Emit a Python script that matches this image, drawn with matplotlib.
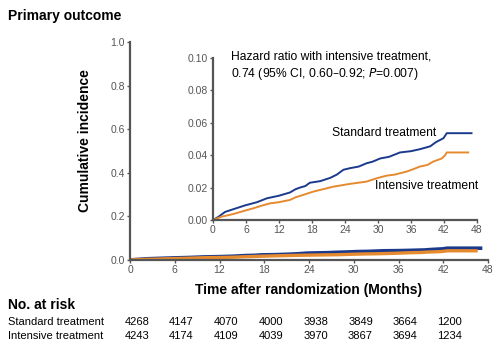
import matplotlib
matplotlib.use("Agg")
import matplotlib.pyplot as plt
import matplotlib.transforms as mtransforms

plt.rcParams['font.family'] = ['Liberation Sans', 'DejaVu Sans']

# cumulative incidence curves
std_months = [0, 1.0, 2.2, 4.0, 5.8, 8.0, 9.8, 12.0, 14.0, 15.0, 15.8, 16.8, 17.6, 19.5, 21.3,
              22.5, 23.7, 24.9, 26.5, 27.9, 29.0, 30.4, 32.0, 34.0, 36.0, 37.6, 39.5, 40.5,
              41.9, 42.2, 42.5, 47.0]
std_inc = [0, 0.002, 0.005, 0.007, 0.009, 0.011, 0.0134, 0.015, 0.017, 0.019, 0.020, 0.021,
           0.023, 0.024, 0.026, 0.028, 0.031, 0.032, 0.033, 0.035, 0.036, 0.038, 0.039, 0.0417,
           0.0425, 0.0437, 0.0455, 0.048, 0.0505, 0.052, 0.0536, 0.0536]
int_months = [0, 1.5, 3.7, 5.5, 7.3, 9.0, 10.4, 12.0, 14.0, 15.0, 16.4, 18.2, 20.0, 21.9, 24.9,
              27.9, 30.0, 31.6, 33.0, 35.2, 36.5, 37.6, 39.0, 40.0, 41.6, 42.2, 42.5, 46.4]
int_inc = [0, 0.002, 0.0037, 0.0055, 0.0072, 0.009, 0.0103, 0.011, 0.0124, 0.014, 0.0155,
           0.0175, 0.019, 0.0206, 0.0223, 0.0237, 0.026, 0.0274, 0.028, 0.0299, 0.0315, 0.033,
           0.034, 0.036, 0.038, 0.040, 0.0417, 0.0417]

risk_months = [0, 6, 12, 18, 24, 30, 36, 42]
std_risk = [4268, 4147, 4070, 4000, 3938, 3849, 3664, 1200]
int_risk = [4243, 4174, 4109, 4039, 3970, 3867, 3694, 1234]

blue = '#1b3a8c'
orange = '#e58a2e'
grey = '#555555'

fig = plt.figure(figsize=(5, 3.56), dpi=100)


def style(ax):
    for s in ['top', 'right']:
        ax.spines[s].set_visible(False)
    for s in ['left', 'bottom']:
        ax.spines[s].set_color(grey)
        ax.spines[s].set_linewidth(1.6)
    ax.tick_params(colors=grey, labelcolor=grey, labelsize=7.5, length=2.5, width=1, pad=1)


ax = fig.add_axes([0.26, 0.27, 0.716, 0.612])
ax.plot(std_months, std_inc, color=blue, lw=2.6)
ax.plot(int_months, int_inc, color=orange, lw=2.4)
ax.set_xlim(0, 48)
ax.set_ylim(0, 1)
ax.set_xticks(range(0, 49, 6))
ax.set_yticks([0, 0.2, 0.4, 0.6, 0.8, 1.0])
ax.set_yticklabels(['0.0', '0.2', '0.4', '0.6', '0.8', '1.0'])
style(ax)
ax.set_ylabel('Cumulative incidence', fontsize=10, fontweight='bold')
ax.yaxis.set_label_coords(-0.107, 0.548)
ax.set_xlabel('Time after randomization (Months)', fontsize=10, fontweight='bold', labelpad=6)

ins = fig.add_axes([0.426, 0.382, 0.528, 0.455])
ins.patch.set_alpha(0)
ins.plot(std_months, std_inc, color=blue, lw=1.4)
ins.plot(int_months, int_inc, color=orange, lw=1.4)
ins.set_xlim(0, 48)
ins.set_ylim(0, 0.10)
ins.set_xticks(range(0, 49, 6))
ins.set_yticks([0, 0.02, 0.04, 0.06, 0.08, 0.10])
ins.set_yticklabels(['0.00', '0.02', '0.04', '0.06', '0.08', '0.10'])
style(ins)
ins.text(3.3, 0.1045, 'Hazard ratio with intensive treatment,\n0.74 (95% CI, 0.60\u20130.92; $\\it{P}$=0.007)',
         fontsize=8.7, va='top', ha='left', linespacing=1.3)
ins.text(40.6, 0.0535, 'Standard treatment', fontsize=8.7, ha='right', va='center')
ins.text(48.2, 0.0212, 'Intensive treatment', fontsize=8.7, ha='right', va='center')

fig.text(0.016, 0.955, 'Primary outcome', fontsize=10, fontweight='bold', va='center')
fig.text(0.016, 0.143, 'No. at risk', fontsize=10, fontweight='bold', va='center')

trans = mtransforms.blended_transform_factory(ax.transData, fig.transFigure)
rows = [('Standard treatment', std_risk, 0.095), ('Intensive treatment', int_risk, 0.056)]
for name, counts, yy in rows:
    fig.text(0.016, yy, name, fontsize=8, va='center')
    for m, c in zip(risk_months, counts):
        fig.text(m + 0.9, yy, str(c), fontsize=8, va='center', ha='center', transform=trans)

fig.savefig('out.png', dpi=100)
